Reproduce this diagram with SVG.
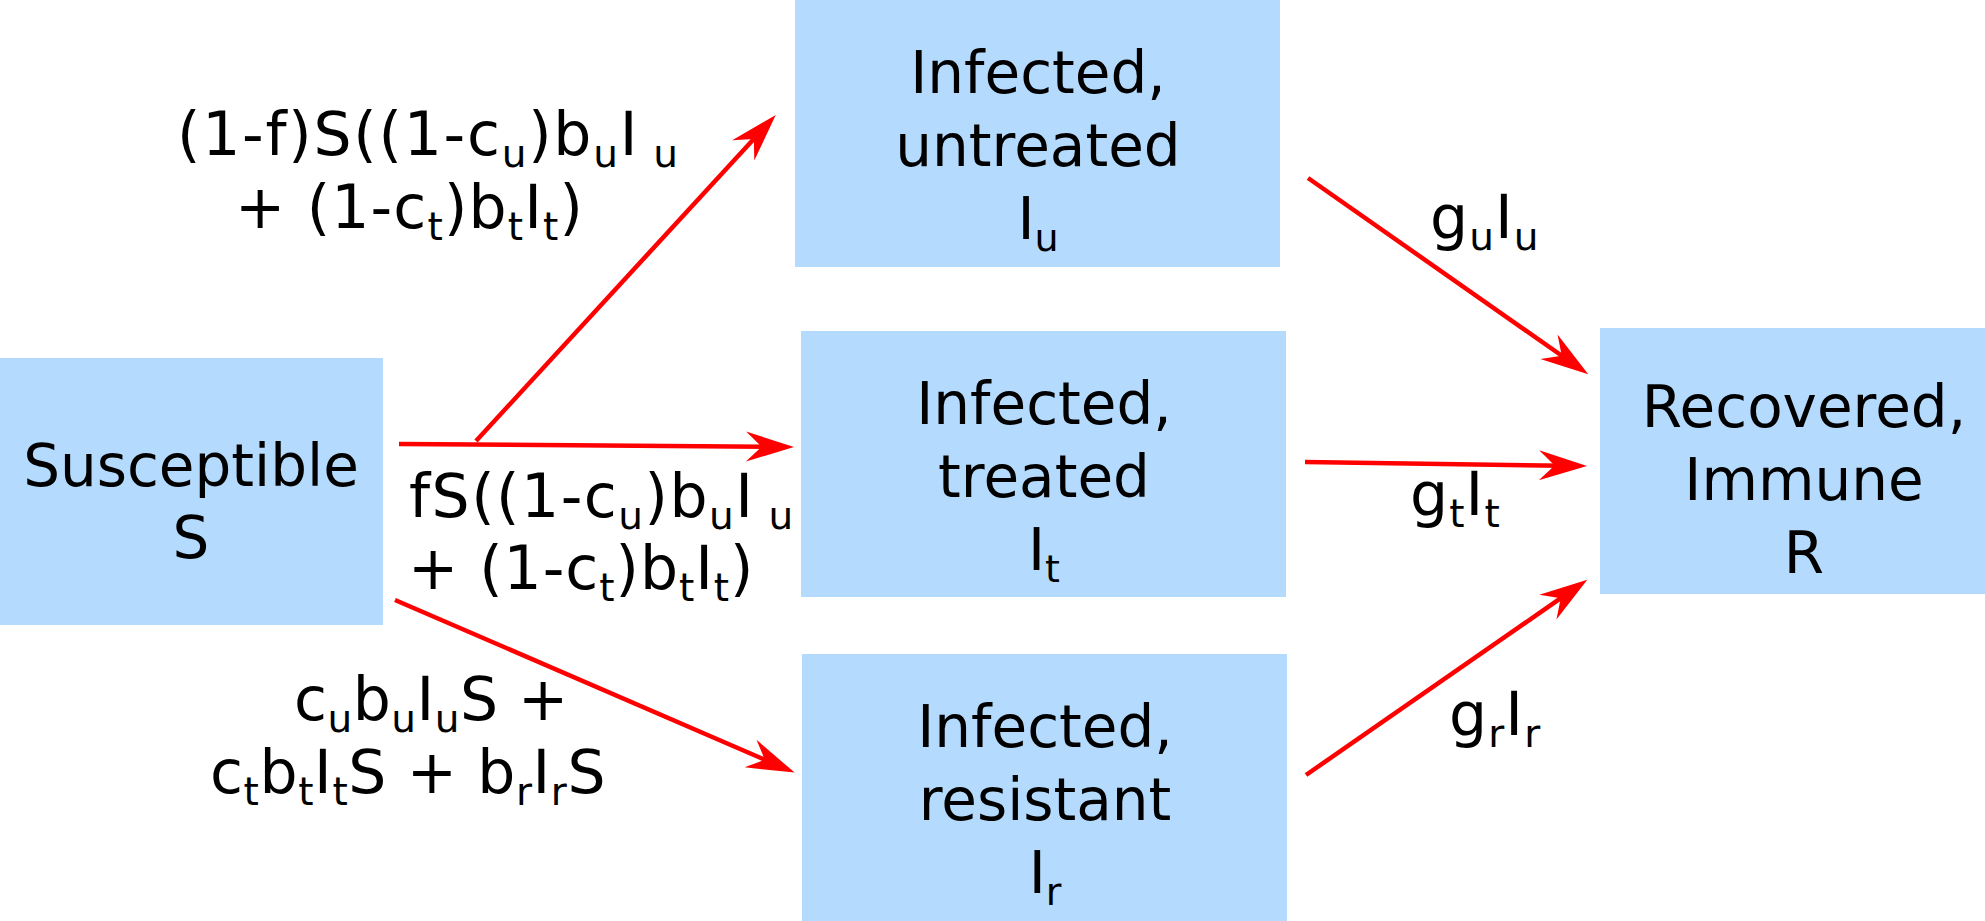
<svg xmlns="http://www.w3.org/2000/svg" width="1985" height="921" viewBox="0 0 1985 921">
<style>
.box{fill:#b4dbfd}
text{font-family:"DejaVu Sans",Verdana,sans-serif;font-size:60px;fill:#000}
.n{font-size:58px;text-anchor:middle}
.s{font-size:39px}
.n .s{font-size:38px}
.g{letter-spacing:1.1px}
.arr{stroke:#ff0000;stroke-width:4.5;fill:none;marker-end:url(#ah)}
</style>
<defs>
<marker id="ah" markerUnits="userSpaceOnUse" markerWidth="60" markerHeight="40" refX="0" refY="0" viewBox="-25 -15 50 30" orient="auto" overflow="visible">
<path d="M20,0 L-20,-12.5 L-7,0 L-20,12.5 Z" fill="#ff0000"/>
</marker>
</defs>
<rect width="1985" height="921" fill="#ffffff"/>
<g id="susceptible">
<rect class="box" x="0" y="358" width="383" height="267"/>
<text class="n" x="191" y="486">Susceptible</text>
<text class="n" x="191" y="558">S</text>
</g>
<g id="untreated">
<rect class="box" x="795" y="0" width="485" height="267"/>
<text class="n" x="1038" y="93">Infected,</text>
<text class="n" x="1038" y="166">untreated</text>
<text class="n" x="1038" y="239">I<tspan class="s" dy="12">u</tspan></text>
</g>
<g id="treated">
<rect class="box" x="801" y="331" width="485" height="266"/>
<text class="n" x="1044" y="424">Infected,</text>
<text class="n" x="1044" y="497">treated</text>
<text class="n" x="1044" y="570">I<tspan class="s" dy="12">t</tspan></text>
</g>
<g id="resistant">
<rect class="box" x="802" y="654" width="485" height="280"/>
<text class="n" x="1045" y="747">Infected,</text>
<text class="n" x="1045" y="820">resistant</text>
<text class="n" x="1045" y="893">I<tspan class="s" dy="12">r</tspan></text>
</g>
<g id="recovered">
<rect class="box" x="1600" y="328" width="420" height="266"/>
<text class="n" x="1804" y="427">Recovered,</text>
<text class="n" x="1804" y="500">Immune</text>
<text class="n" x="1804" y="573">R</text>
</g>
<g id="connectors">
<line class="arr" x1="476" y1="441" x2="759.5" y2="132.7"/>
<line class="arr" x1="399" y1="444" x2="770" y2="446.8"/>
<line class="arr" x1="395" y1="600" x2="772.6" y2="763.1"/>
<line class="arr" x1="1308" y1="178" x2="1568.6" y2="360.5"/>
<line class="arr" x1="1305" y1="462" x2="1563" y2="465.7"/>
<line class="arr" x1="1306" y1="775" x2="1567.6" y2="593.4"/>
</g>
<g id="labels">
<text x="177" y="155" letter-spacing="1.75">(1-f)S((1-c<tspan class="s" dy="12">u</tspan><tspan dy="-12">)b</tspan><tspan class="s" dy="12">u</tspan><tspan dy="-12">I</tspan><tspan class="s" dy="12"> u</tspan></text>
<text x="235" y="228" letter-spacing="1.15">+ (1-c<tspan class="s" dy="12">t</tspan><tspan dy="-12">)b</tspan><tspan class="s" dy="12">t</tspan><tspan dy="-12">I</tspan><tspan class="s" dy="12">t</tspan><tspan dy="-12">)</tspan></text>
<text x="409" y="517" letter-spacing="1.5">fS((1-c<tspan class="s" dy="12">u</tspan><tspan dy="-12">)b</tspan><tspan class="s" dy="12">u</tspan><tspan dy="-12">I</tspan><tspan class="s" dy="12"> u</tspan></text>
<text x="408" y="589" letter-spacing="0.95">+ (1-c<tspan class="s" dy="12">t</tspan><tspan dy="-12">)b</tspan><tspan class="s" dy="12">t</tspan><tspan dy="-12">I</tspan><tspan class="s" dy="12">t</tspan><tspan dy="-12">)</tspan></text>
<text x="294" y="720" letter-spacing="0.5">c<tspan class="s" dy="12">u</tspan><tspan dy="-12">b</tspan><tspan class="s" dy="12">u</tspan><tspan dy="-12">I</tspan><tspan class="s" dy="12">u</tspan><tspan dy="-12">S +</tspan></text>
<text x="210" y="793" letter-spacing="0.6">c<tspan class="s" dy="12">t</tspan><tspan dy="-12">b</tspan><tspan class="s" dy="12">t</tspan><tspan dy="-12">I</tspan><tspan class="s" dy="12">t</tspan><tspan dy="-12">S + b</tspan><tspan class="s" dy="12">r</tspan><tspan dy="-12">I</tspan><tspan class="s" dy="12">r</tspan><tspan dy="-12">S</tspan></text>
<text class="g" x="1430" y="238">g<tspan class="s" dy="12">u</tspan><tspan dy="-12">I</tspan><tspan class="s" dy="12">u</tspan></text>
<text class="g" x="1410" y="515">g<tspan class="s" dy="12">t</tspan><tspan dy="-12">I</tspan><tspan class="s" dy="12">t</tspan></text>
<text class="g" x="1449" y="735">g<tspan class="s" dy="12">r</tspan><tspan dy="-12">I</tspan><tspan class="s" dy="12">r</tspan></text>
</g>
</svg>
